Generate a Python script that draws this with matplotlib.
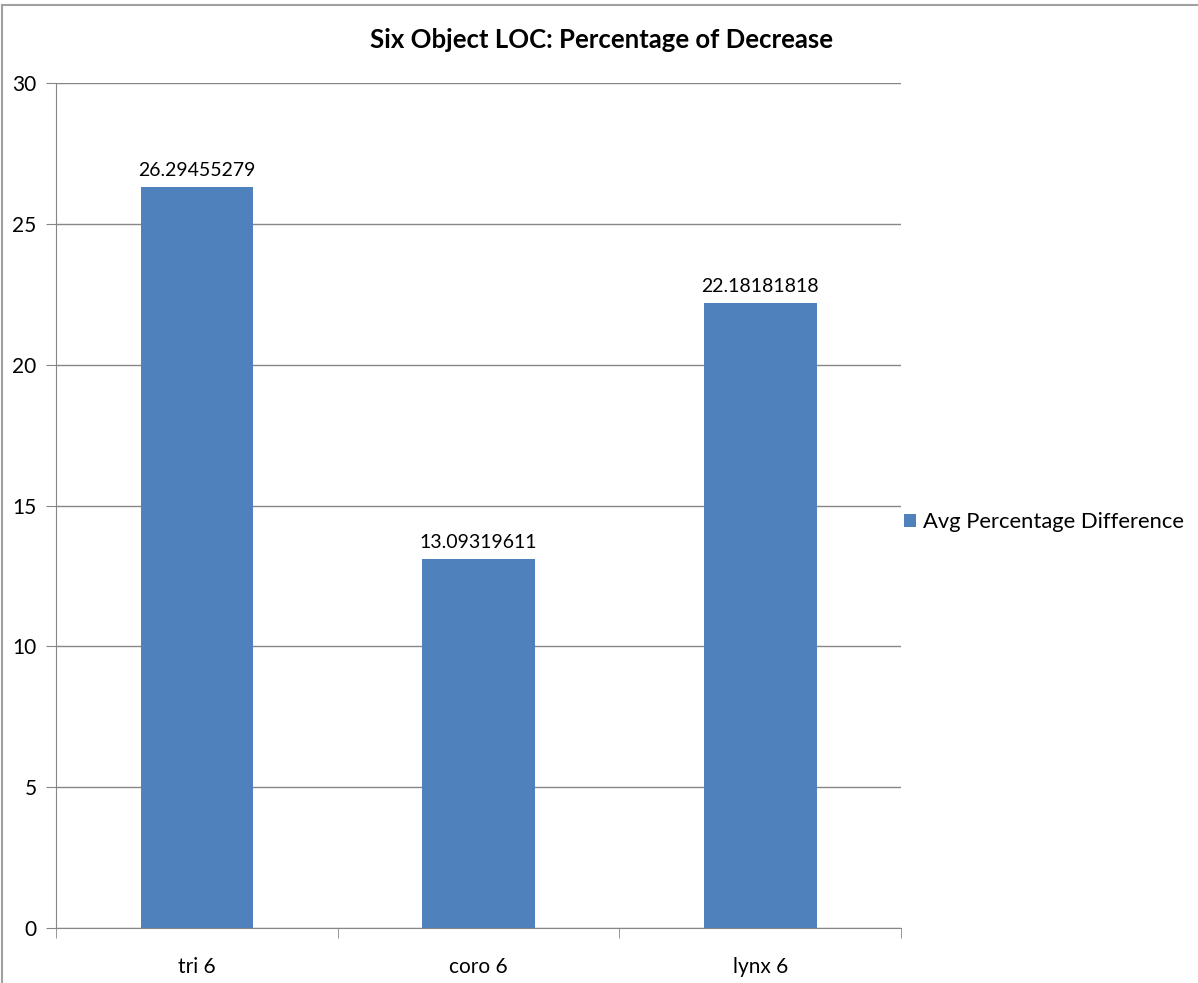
import numpy as np
import matplotlib.pyplot as plt
from matplotlib.lines import Line2D

categories = ['tri 6', 'coro 6', 'lynx 6']
values = [26.29455279, 13.09319611, 22.18181818]
labels = ['26.29455279', '13.09319611', '22.18181818']
series_name = 'Avg Percentage Difference'

plt.rcParams['font.family'] = ['Lato', 'DejaVu Sans']

fig = plt.figure(figsize=(11.98, 9.83), dpi=100)
ax = fig.add_axes([56 / 1198, 1 - 928 / 983, (901 - 56) / 1198, (928 - 83) / 983])

grid_color = '#868686'
x = np.arange(len(categories))
bars = ax.bar(x, values, width=0.4, color='#4F81BD', zorder=3, label=series_name)

for rect, txt in zip(bars, labels):
    ax.annotate(txt, (rect.get_x() + rect.get_width() / 2, rect.get_height()),
                xytext=(0, 6), textcoords='offset points',
                ha='center', va='bottom', fontsize=14)

ax.set_xlim(-0.5, len(categories) - 0.5)
ax.set_ylim(0, 30)
ax.set_yticks(np.arange(0, 31, 5))
ax.set_xticks(x)
ax.set_xticklabels(categories)
ax.set_xticks(np.arange(-0.5, len(categories), 1), minor=True)
ax.yaxis.grid(True, color=grid_color, linewidth=1, zorder=0)

ax.tick_params(axis='y', length=7, color=grid_color, labelsize=15, pad=7)
ax.tick_params(axis='x', which='major', length=0, labelsize=15, pad=21)
ax.tick_params(axis='x', which='minor', length=7, color=grid_color)

for side in ['top', 'right']:
    ax.spines[side].set_visible(False)
ax.spines['left'].set_color(grid_color)
ax.spines['bottom'].set_color(grid_color)

fig.text(0.502, 1 - 40 / 983, 'Six Object LOC: Percentage of Decrease',
         fontsize=18.5, fontweight='bold', ha='center', va='center')

ax.legend(loc='center left', bbox_to_anchor=(1.003, 0.48), frameon=False,
          fontsize=15.8, handlelength=0.55, handleheight=0.55, handletextpad=0.35,
          borderaxespad=0.0, borderpad=0.0)

# chart frame: only top and left edges show
fig.add_artist(Line2D([2 / 1198, 1], [1 - 5 / 983, 1 - 5 / 983],
                      transform=fig.transFigure, color='#A0A0A0', linewidth=1.5))
fig.add_artist(Line2D([2 / 1198, 2 / 1198], [0, 1 - 5 / 983],
                      transform=fig.transFigure, color='#A0A0A0', linewidth=1.5))

fig.savefig('out.png', dpi=100)
